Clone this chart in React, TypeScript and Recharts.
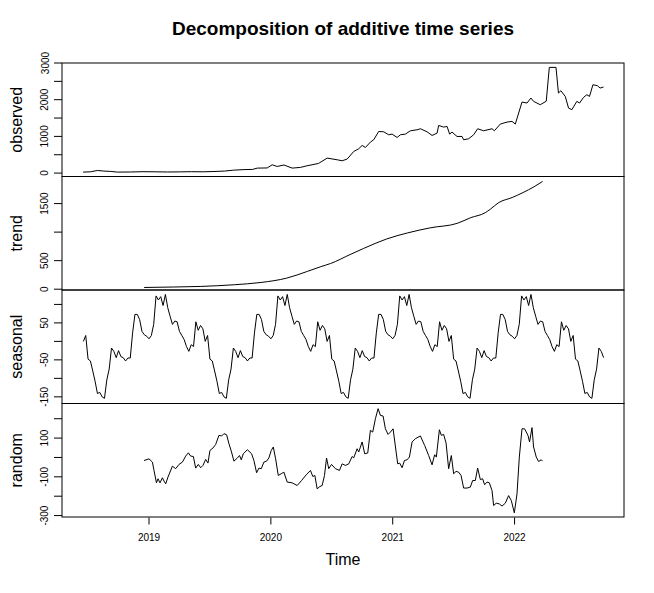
import { Line, LineChart, XAxis, YAxis } from "recharts";

const FONT = "'Liberation Sans', Arial, Helvetica, sans-serif";

const xDomain: [number, number] = [2018.286, 2022.898];
const yearTicks = [2019, 2020, 2021, 2022];

// observed weekly counts, [decimal year, value]
const observed: [number, number][] = [
	[2018.459, 27], [2018.52, 35], [2018.577, 71], [2018.63, 55], [2018.686, 45],
	[2018.741, 27], [2018.85, 30], [2018.95, 38], [2019.05, 35], [2019.15, 30],
	[2019.25, 33], [2019.35, 38], [2019.45, 35], [2019.55, 45], [2019.62, 55],
	[2019.694, 80], [2019.78, 95], [2019.85, 100], [2019.889, 136], [2019.97, 140],
	[2020.011, 226], [2020.052, 180], [2020.107, 220], [2020.175, 136], [2020.243, 155],
	[2020.298, 200], [2020.391, 262], [2020.462, 409], [2020.544, 363], [2020.585, 335],
	[2020.626, 382], [2020.68, 589], [2020.721, 663], [2020.749, 753], [2020.776, 698],
	[2020.817, 845], [2020.844, 908], [2020.885, 1134], [2020.926, 1125], [2020.967, 1044],
	[2020.995, 1062], [2021.036, 971], [2021.063, 1044], [2021.104, 1062], [2021.145, 1153],
	[2021.2, 1180], [2021.227, 1208], [2021.282, 1125], [2021.323, 1025], [2021.364, 1089],
	[2021.377, 1298], [2021.418, 1253], [2021.446, 1271], [2021.467, 1062], [2021.487, 1116],
	[2021.528, 998], [2021.569, 998], [2021.582, 908], [2021.623, 935], [2021.664, 1044],
	[2021.697, 1208], [2021.746, 1153], [2021.815, 1208], [2021.834, 1153], [2021.883, 1336],
	[2021.938, 1390], [2021.979, 1409], [2022.006, 1336], [2022.061, 1936], [2022.102, 1909],
	[2022.134, 2045], [2022.156, 1954], [2022.211, 1863], [2022.26, 1960], [2022.285, 2880],
	[2022.34, 2880], [2022.36, 2181], [2022.38, 2244], [2022.416, 2090], [2022.443, 1772],
	[2022.47, 1727], [2022.511, 1954], [2022.533, 1909], [2022.566, 2063], [2022.593, 2135],
	[2022.615, 2090], [2022.643, 2408], [2022.68, 2381], [2022.702, 2318], [2022.73, 2345],
];

const trend: [number, number][] = [
	[2018.96, 30], [2019.2, 38], [2019.42, 48], [2019.7, 78], [2019.92, 118],
	[2020.13, 194], [2020.3, 312], [2020.41, 395], [2020.49, 450], [2020.65, 607],
	[2020.76, 713], [2020.95, 880], [2021.12, 985], [2021.31, 1076], [2021.53, 1154],
	[2021.64, 1253], [2021.76, 1341], [2021.8, 1400], [2021.87, 1518], [2021.98, 1606],
	[2022.07, 1694], [2022.16, 1795], [2022.23, 1888],
];

// decompose() uses one 52-week seasonal figure, repeated every year
const seasonalWeek = [
	0, 16, -48, -53, -80, -108, -141, -138, -150, -154,
	-104, -75, -18, -27, -44, -25, -41, -44, -53, -45,
	-45, 23, 73, 73, 59, 27, 18, 14, 7, 16,
	46, 123, 112, 121, 97, 127, 91, 68, 46, 55,
	53, 27, 16, 5, -14, -27, -9, -14, 53, 30,
	43, 34,
];
const seasonalStart = 2018 + 24 / 52;
const seasonalCount = 223;

const random: [number, number][] = [
	[2018.959, -16], [2019.0, -7], [2019.028, -24], [2019.041, -67], [2019.061, -131],
	[2019.074, -110], [2019.09, -131], [2019.11, -105], [2019.123, -122], [2019.137, -136],
	[2019.156, -101], [2019.192, -45], [2019.219, -58], [2019.246, -36], [2019.274, -24],
	[2019.301, 7], [2019.323, 24], [2019.342, 7], [2019.364, 5], [2019.383, -55],
	[2019.405, -36], [2019.424, -53], [2019.443, -41], [2019.465, -10], [2019.484, -29],
	[2019.5, 36], [2019.525, 49], [2019.547, 67], [2019.574, 114], [2019.596, 111],
	[2019.615, 123], [2019.637, 117], [2019.656, 71], [2019.675, 33], [2019.697, -19],
	[2019.725, -3], [2019.743, 10], [2019.757, -12], [2019.774, 19], [2019.807, 40],
	[2019.842, 19], [2019.861, -16], [2019.883, -79], [2019.902, -55], [2019.921, -58],
	[2019.943, -24], [2019.965, -19], [2019.984, -2], [2020.003, 36], [2020.02, 54],
	[2020.039, -7], [2020.061, -93], [2020.085, -84], [2020.107, -76], [2020.134, -127],
	[2020.175, -131], [2020.216, -145], [2020.252, -119], [2020.29, -90], [2020.325, -67],
	[2020.344, -98], [2020.361, -93], [2020.38, -162], [2020.402, -150], [2020.421, -145],
	[2020.44, -93], [2020.457, -3], [2020.475, -58], [2020.498, -36], [2020.53, -58],
	[2020.563, -67], [2020.585, -33], [2020.612, -41], [2020.639, -33], [2020.667, 5],
	[2020.68, -2], [2020.708, 45], [2020.721, 28], [2020.749, 80], [2020.77, 19],
	[2020.795, 23], [2020.817, 140], [2020.836, 131], [2020.858, 200], [2020.88, 252],
	[2020.899, 217], [2020.921, 214], [2020.94, 148], [2020.962, 119], [2020.981, 131],
	[2021.003, 148], [2021.028, 28], [2021.041, -33], [2021.057, -29], [2021.077, -53],
	[2021.096, -16], [2021.118, -12], [2021.137, 2], [2021.159, 80], [2021.186, 97],
	[2021.227, 111], [2021.262, 62], [2021.295, 10], [2021.323, -38], [2021.344, 14],
	[2021.358, 2], [2021.383, 143], [2021.399, 114], [2021.418, 119], [2021.438, 74],
	[2021.459, -58], [2021.481, 10], [2021.5, -84], [2021.52, -72], [2021.541, -76],
	[2021.561, -93], [2021.582, -158], [2021.61, -158], [2021.637, -153], [2021.656, -119],
	[2021.678, -119], [2021.697, -55], [2021.719, -114], [2021.738, -110], [2021.754, -141],
	[2021.774, -127], [2021.793, -131], [2021.815, -171], [2021.828, -248], [2021.85, -236],
	[2021.875, -240], [2021.897, -251], [2021.924, -236], [2021.951, -197], [2021.973, -222],
	[2021.998, -286], [2022.02, -188], [2022.039, 2], [2022.061, 148], [2022.082, 148],
	[2022.11, 114], [2022.123, 80], [2022.143, 154], [2022.156, 54], [2022.178, 2],
	[2022.197, -21], [2022.219, -12], [2022.23, -19],
];

const observedTicks = [0, 500, 1000, 1500, 2000, 2500, 3000];
const observedLabels = [0, 1000, 2000, 3000];
const trendTicks = [0, 500, 1000, 1500];
const trendLabels = [0, 500, 1500];
const seasonalTicks = [-150, -100, -50, 0, 50, 100];
const seasonalLabels = [-150, -50, 50];
const randomTicks = [-300, -200, -100, 0, 100, 200];
const randomLabels = [-300, -100, 100];

const toPoints = (pairs: [number, number][]) => pairs.map(([x, y]) => ({ x, y }));
const seasonalPoints = Array.from({ length: seasonalCount }, (_, i) => ({
	x: seasonalStart + i / 52,
	y: seasonalWeek[i % 52],
}));

const PLOT_LEFT = 62;
const PLOT_RIGHT = 624;
const PANEL_H = 113.5;
const PAD = 20; // room so edge tick labels are not clipped
const panelTops = [63, 176.5, 290, 403.5];

function YTick(props: any) {
	const { x, y, payload, labels } = props;
	if (!labels.includes(payload.value)) return <g />;
	return (
		<text
			x={x}
			y={y}
			transform={`rotate(-90 ${x} ${y})`}
			textAnchor="middle"
			fontSize={10}
			fontFamily={FONT}
			fill="#000"
		>
			{payload.value}
		</text>
	);
}

function XTick(props: any) {
	const { x, y, payload } = props;
	return (
		<text x={x} y={y} dy={7.5} textAnchor="middle" fontSize={10} fontFamily={FONT} fill="#000">
			{payload.value}
		</text>
	);
}

interface PanelProps {
	top: number;
	data: Array<{ x: number; y: number }>;
	domain: [number, number];
	ticks: number[];
	labels: number[];
	curve?: "linear" | "monotone";
	bottom?: boolean;
}

function Panel({ top, data, domain, ticks, labels, curve = "linear", bottom = false }: PanelProps) {
	return (
		<div style={{ position: "absolute", left: 0, top: top - PAD }}>
			<LineChart
				width={654}
				height={PANEL_H + 2 * PAD + (bottom ? 40 : 0)}
				data={data}
				margin={{ top: PAD, right: 654 - PLOT_RIGHT, bottom: PAD, left: 0 }}
			>
				<XAxis
					type="number"
					dataKey="x"
					domain={xDomain}
					allowDataOverflow
					hide={!bottom}
					ticks={yearTicks}
					interval={0}
					height={40}
					tickSize={7}
					tickMargin={9}
					axisLine={false}
					tickLine={{ stroke: "#000" }}
					tick={(p: any) => <XTick {...p} />}
				/>
				<YAxis
					type="number"
					domain={domain}
					allowDataOverflow
					ticks={ticks}
					interval={0}
					width={PLOT_LEFT}
					tickSize={8}
					tickMargin={5.5}
					axisLine={false}
					tickLine={{ stroke: "#000" }}
					tick={(p: any) => <YTick {...p} labels={labels} />}
				/>
				<Line
					type={curve}
					dataKey="y"
					stroke="#000"
					strokeWidth={1}
					dot={false}
					activeDot={false}
					isAnimationActive={false}
				/>
			</LineChart>
		</div>
	);
}

const panelNames = ["observed", "trend", "seasonal", "random"];

export default function App() {
	return (
		<div
			style={{
				position: "absolute",
				left: 0,
				top: 0,
				width: 654,
				height: 593,
				background: "#fff",
				fontFamily: FONT,
			}}
		>
			<Panel top={panelTops[0]} data={toPoints(observed)} domain={[-93, 3000]} ticks={observedTicks} labels={observedLabels} />
			<Panel top={panelTops[1]} data={toPoints(trend)} domain={[-23, 1966]} ticks={trendTicks} labels={trendLabels} curve="monotone" />
			<Panel top={panelTops[2]} data={seasonalPoints} domain={[-168, 139]} ticks={seasonalTicks} labels={seasonalLabels} />
			<Panel top={panelTops[3]} data={toPoints(random)} domain={[-310, 276]} ticks={randomTicks} labels={randomLabels} bottom />
			<svg
				width={654}
				height={593}
				style={{ position: "absolute", left: 0, top: 0, pointerEvents: "none" }}
			>
				{panelTops.map((t) => (
					<rect
						key={t}
						x={PLOT_LEFT}
						y={t}
						width={PLOT_RIGHT - PLOT_LEFT}
						height={PANEL_H}
						fill="none"
						stroke="#000"
						strokeWidth={1}
					/>
				))}
				{panelNames.map((name, i) => {
					const cy = panelTops[i] + PANEL_H / 2;
					return (
						<text
							key={name}
							x={22}
							y={cy}
							transform={`rotate(-90 22 ${cy})`}
							textAnchor="middle"
							fontSize={16}
							fontFamily={FONT}
							fill="#000"
						>
							{name}
						</text>
					);
				})}
				<text x={343} y={35} textAnchor="middle" fontSize={19} fontWeight="bold" fontFamily={FONT} fill="#000">
					Decomposition of additive time series
				</text>
				<text x={343} y={565} textAnchor="middle" fontSize={16} fontFamily={FONT} fill="#000">
					Time
				</text>
			</svg>
		</div>
	);
}
